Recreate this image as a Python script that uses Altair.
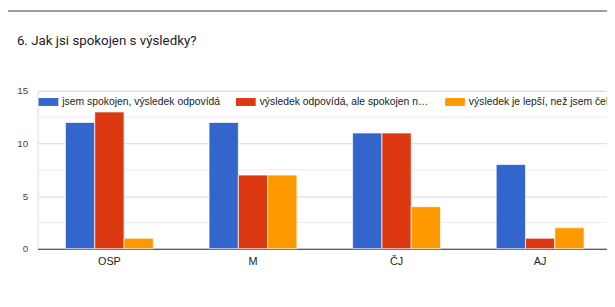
import altair as alt
import pandas as pd

subjects = ["OSP", "M", "ČJ", "AJ"]
series = [
    "jsem spokojen, výsledek odpovídá",
    "výsledek odpovídá, ale spokojen nejsem",
    "výsledek je lepší, než jsem čekal",
]
values = {
    series[0]: [12, 12, 11, 8],
    series[1]: [13, 7, 11, 1],
    series[2]: [1, 7, 4, 2],
}
colors = ["#3366cc", "#dc3912", "#ff9900"]
minor_grid = [2.5, 7.5, 12.5]
title_text = "6. Jak jsi spokojen s výsledky?"

rows = []
for s in series:
    for subj, v in zip(subjects, values[s]):
        rows.append({"subject": subj, "series": s, "value": v})
df = pd.DataFrame(rows)

W, H = 582, 160
LABEL_FONT = "Liberation Sans"

x_scale = alt.Scale(domain=subjects, paddingInner=0.388, paddingOuter=0.194)

minor = alt.Chart(pd.DataFrame({"v": minor_grid})).mark_rule(color="#ececec", strokeWidth=1).encode(
    y=alt.Y("v:Q", scale=alt.Scale(domain=[0, 15]))
)

bars = alt.Chart(df).mark_bar(stroke="white", strokeWidth=0.7).encode(
    x=alt.X("subject:N", scale=x_scale, sort=subjects,
            axis=alt.Axis(title=None, labelAngle=0, ticks=False, domainColor="#333333",
                          domainWidth=1, labelColor="#222222", labelFontSize=11,
                          labelFont=LABEL_FONT, labelPadding=7, grid=False)),
    xOffset=alt.XOffset("series:N", sort=series, scale=alt.Scale(paddingInner=0, paddingOuter=0)),
    y=alt.Y("value:Q", scale=alt.Scale(domain=[0, 15], nice=False),
            axis=alt.Axis(title=None, values=[0, 5, 10, 15], ticks=False, domain=False,
                          gridColor="#d9d9d9", labelColor="#444444", labelFontSize=10,
                          labelFont=LABEL_FONT, labelPadding=10)),
    color=alt.Color("series:N", sort=series,
                    scale=alt.Scale(domain=series, range=colors),
                    legend=alt.Legend(title=None, orient="none", legendX=1, legendY=1,
                                      direction="horizontal",
                                      symbolType="M-1,-0.4L1,-0.4L1,0.4L-1,0.4Z",
                                      symbolSize=400, symbolStrokeWidth=0,
                                      labelFont=LABEL_FONT, labelFontSize=10.5,
                                      labelColor="#222222", labelLimit=172,
                                      labelOffset=4, columnPadding=16)),
)

title = alt.Chart(pd.DataFrame({"t": [title_text]})).mark_text(
    align="left", baseline="middle", font="Roboto", fontSize=13.5, color="#202124"
).encode(text="t:N", x=alt.value(-21), y=alt.value(-51))

topline = alt.Chart(pd.DataFrame({"a": [0]})).mark_rule(color="#a0a0a0", strokeWidth=2).encode(
    x=alt.value(-30), x2=alt.value(600), y=alt.value(-81)
)

chart = alt.layer(minor, bars, title, topline).properties(
    width=W, height=H,
    autosize=alt.AutoSizeParams(type="none"),
    padding={"left": 30, "top": 82, "right": -5, "bottom": 57},
).configure_view(stroke=None).configure(background="white")

chart.save("out.html", embed_options={"renderer": "svg", "actions": False})
